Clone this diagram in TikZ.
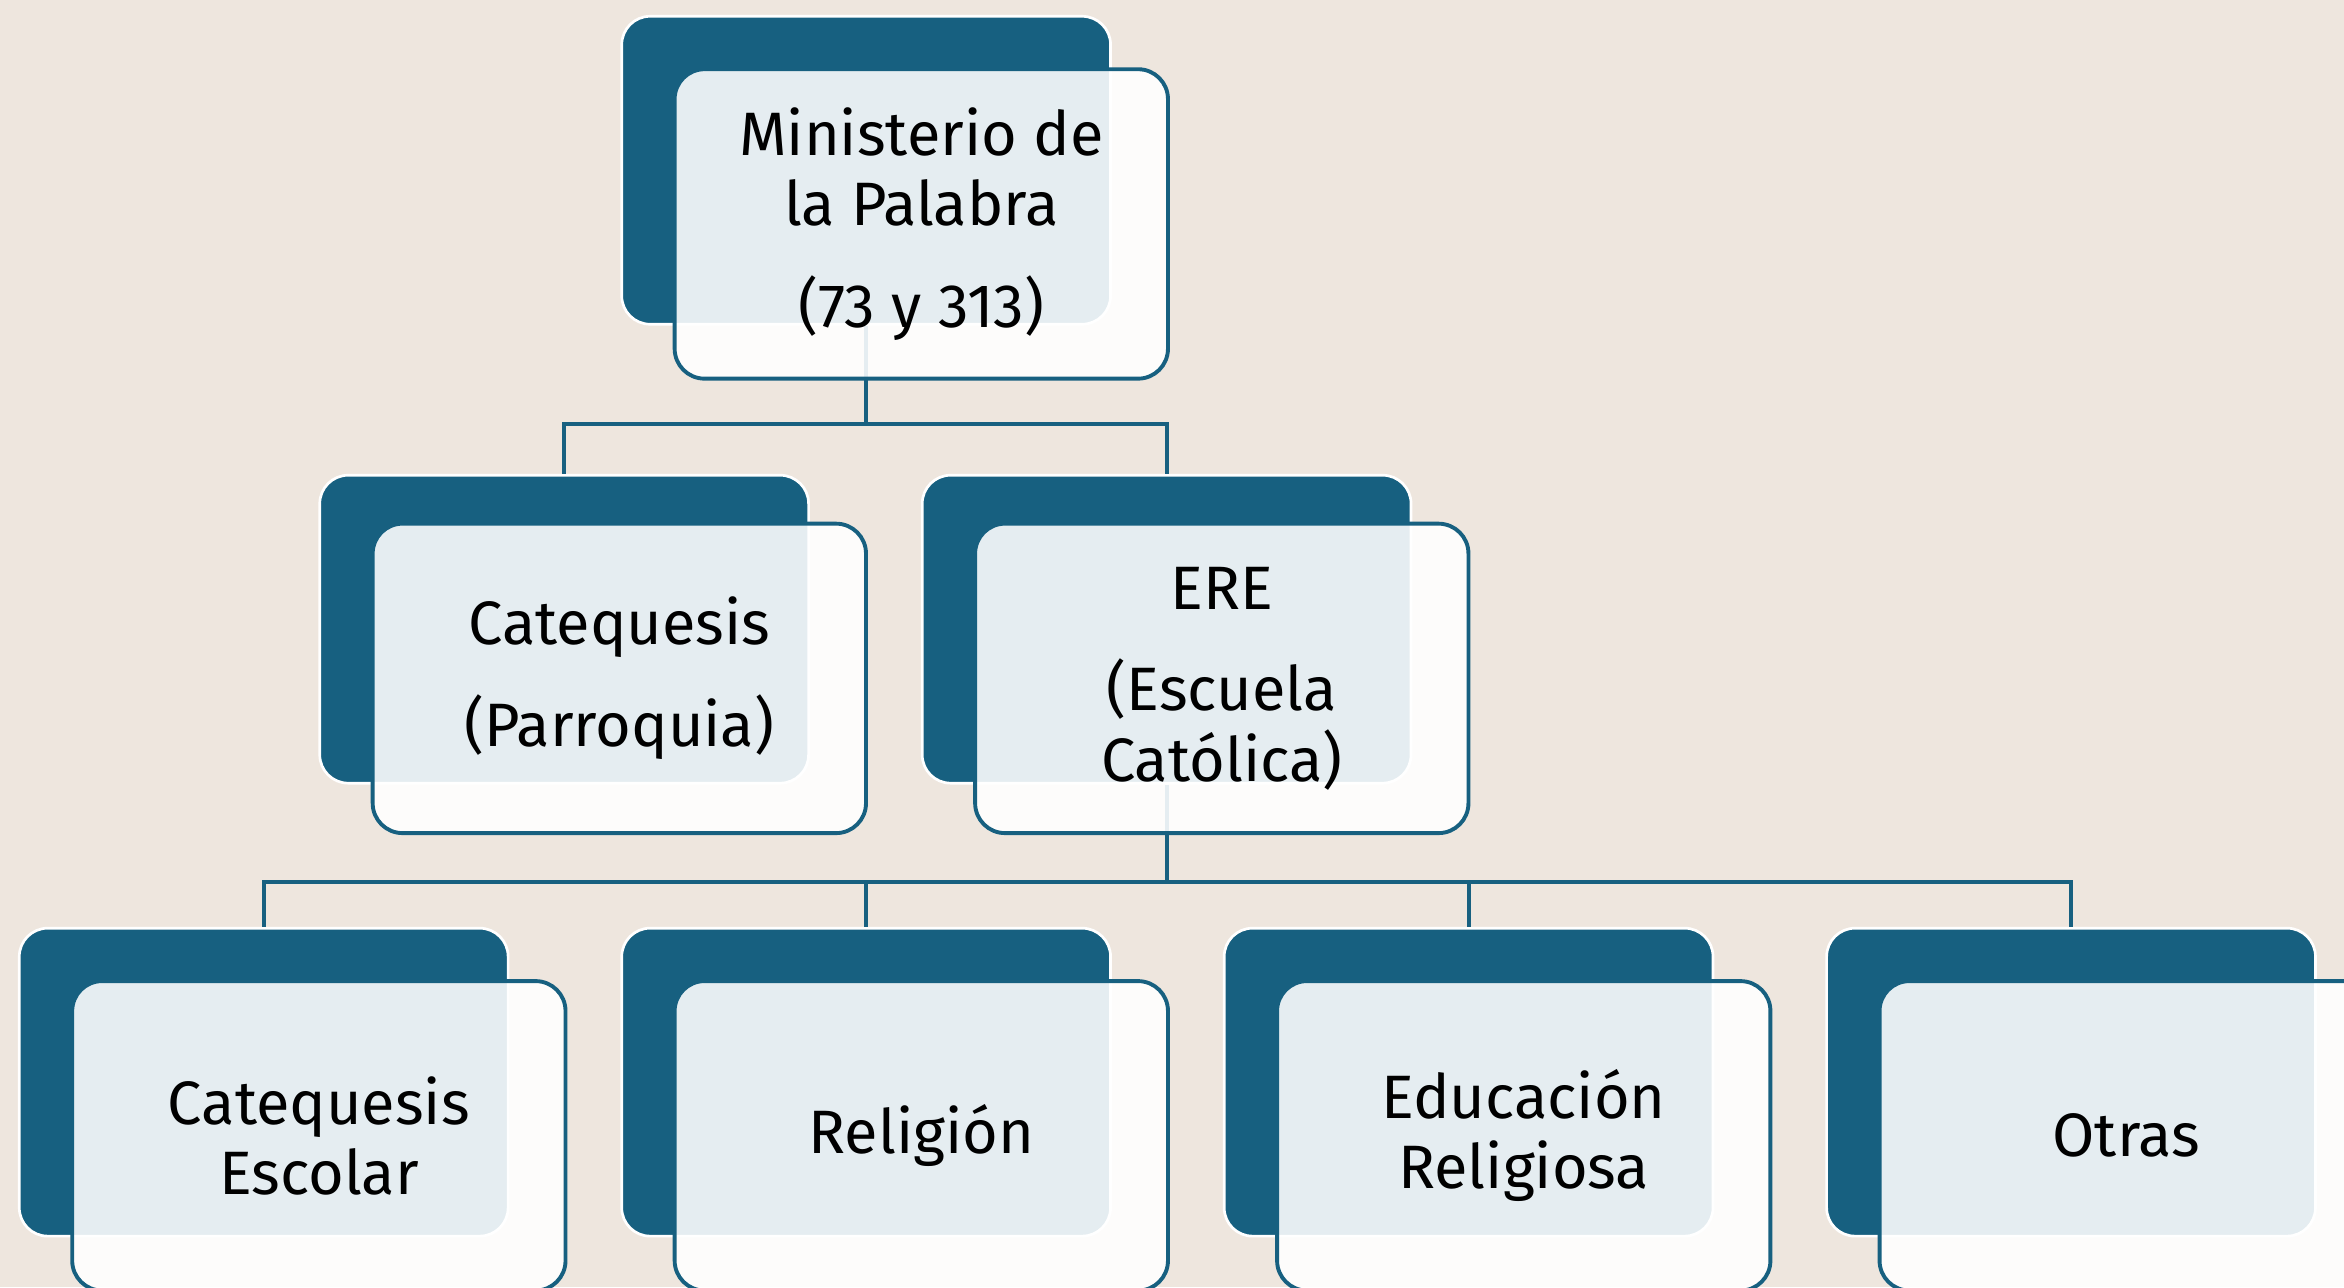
\documentclass[tikz,border=0pt]{standalone}
\usepackage{fontspec}
\usetikzlibrary{calc}
\setmainfont{Fira Sans}
\definecolor{dblue}{HTML}{176080}
\definecolor{bgbeige}{HTML}{EEE6DE}
\tikzset{
  x=1pt, y=-1pt,
  darkbox/.style={rectangle, rounded corners=19pt, fill=dblue, draw=white, line width=1.8pt,
    minimum width=327pt, minimum height=206pt, anchor=north west, inner sep=0pt},
  whitebox/.style={rectangle, rounded corners=20pt, fill=white, fill opacity=0.89, text opacity=1,
    draw=dblue, draw opacity=1, line width=2.6pt, minimum width=330pt, minimum height=207pt,
    anchor=north west, inner sep=0pt, align=center, text=black,
    font=\fontsize{41}{47}\selectfont},
  conn/.style={draw=dblue, line width=2.8pt},
}
\begin{document}
\begin{tikzpicture}
\fill[bgbeige] (0,0) rectangle (1568,861);
\useasboundingbox (0,0) rectangle (1568,861);
% dark boxes (named, positioned)
\node[darkbox] (d0) at (415,10) {};
\node[darkbox] (d1) at (213,317) {};
\node[darkbox] (d2) at (616,317) {};
\node[darkbox] (d3) at (12,620) {};
\node[darkbox] (d4) at (415,620) {};
\node[darkbox] (d5) at (818,620) {};
\node[darkbox] (d6) at (1221,620) {};
% connectors (behind the light boxes)
\coordinate (busA) at ($(d0.south)+(0,66)$);
\draw[conn] (d0.south) -- (busA) -| (d1.north);
\draw[conn] (busA) -| (d2.north);
\coordinate (busB) at ($(d2.south)+(0,65)$);
\draw[conn] (d2.south) -- (busB) -| (d3.north);
\draw[conn] (busB) -| (d4.north);
\draw[conn] (busB) -| (d5.north);
\draw[conn] (busB) -| (d6.north);
% light boxes with text
\node[whitebox] (w0) at (450,45) {Ministerio de\\la Palabra\\[21pt](73 y 313)};
\node[whitebox] (w1) at (248,349) {Catequesis\\[21pt](Parroquia)};
\node[whitebox] (w2) at (651,349) {ERE\\[21pt](Escuela\\Católica)};
\node[whitebox] (w3) at (47,655) {Catequesis\\Escolar};
\node[whitebox] (w4) at (450,655) {Religión};
\node[whitebox] (w5) at (853,655) {Educación\\Religiosa};
\node[whitebox] (w6) at (1256,655) {Otras};
\end{tikzpicture}
\end{document}
